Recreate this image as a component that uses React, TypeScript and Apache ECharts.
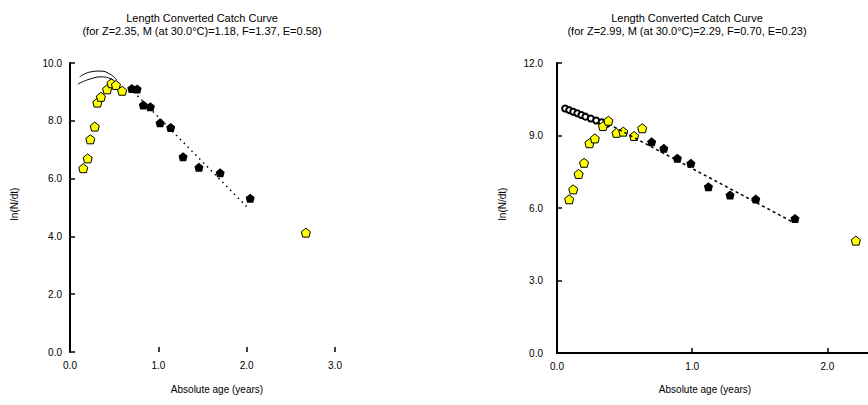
import React, { useEffect, useRef } from "react";
import * as echarts from "echarts";

// Left chart data (age in years, ln(N/dt))
const leftYellowX = [0.15, 0.2, 0.23, 0.28, 0.31, 0.35, 0.42, 0.47, 0.52, 0.59, 2.67];
const leftYellowY = [6.36, 6.7, 7.36, 7.8, 8.63, 8.83, 9.09, 9.3, 9.24, 9.04, 4.13];
const leftBlackX = [0.7, 0.76, 0.83, 0.91, 1.02, 1.14, 1.28, 1.46, 1.7, 2.04];
const leftBlackY = [9.12, 9.1, 8.55, 8.49, 7.93, 7.77, 6.76, 6.39, 6.2, 5.32];
const leftRegX = [0.72, 2.0];
const leftRegY = [9.0, 5.03];
const leftArcUpX = [0.11, 0.23, 0.34, 0.45, 0.53];
const leftArcUpY = [9.52, 9.69, 9.72, 9.62, 9.41];
const leftArcLowX = [0.09, 0.23, 0.37, 0.49];
const leftArcLowY = [9.27, 9.45, 9.52, 9.41];

// Right chart data
const rightYellowX = [0.09, 0.12, 0.16, 0.2, 0.24, 0.28, 0.34, 0.38, 0.44, 0.49, 0.57, 0.63, 2.21];
const rightYellowY = [6.36, 6.77, 7.41, 7.87, 8.68, 8.88, 9.39, 9.61, 9.11, 9.16, 8.98, 9.3, 4.65];
const rightBlackX = [0.7, 0.79, 0.89, 0.99, 1.12, 1.28, 1.47, 1.76];
const rightBlackY = [8.74, 8.47, 8.06, 7.85, 6.88, 6.54, 6.37, 5.57];
const rightRegX = [0.42, 1.74];
const rightRegY = [9.36, 5.43];
const rightHollowX = [0.06, 0.09, 0.12, 0.15, 0.18, 0.21, 0.25, 0.29, 0.33, 0.37];
const rightHollowY = [10.12, 10.05, 9.98, 9.92, 9.85, 9.78, 9.7, 9.62, 9.55, 9.48];

const leftTitle = ["Length Converted Catch Curve", "(for Z=2.35, M (at 30.0°C)=1.18, F=1.37, E=0.58)"];
const rightTitle = ["Length Converted Catch Curve", "(for Z=2.99, M (at 30.0°C)=2.29, F=0.70, E=0.23)"];
const xName = "Absolute age (years)";
const yName = "ln(N/dt)";

const zip = (xs: number[], ys: number[]) => xs.map((x, i) => [x, ys[i]]);
const marker = "path://M5,0 L10,4 L8.5,10 L1.5,10 L0,4 Z";
const FONT = "Liberation Sans, Arial, sans-serif";

export default function App() {
  const ref = useRef<HTMLDivElement>(null);
  useEffect(() => {
    document.body.style.margin = "0";
    const chart = echarts.init(ref.current!, undefined, { renderer: "svg" });
    const axisLabel = { color: "#000", fontSize: 10, fontFamily: FONT, formatter: (v: number) => v.toFixed(1) };
    const tick = { show: true, inside: true, length: 5, lineStyle: { color: "#000", width: 1.5 } };
    const line = { show: true, lineStyle: { color: "#000", width: 2 } };
    const yellow = { color: "#ffff00", borderColor: "#000", borderWidth: 1, opacity: 1 };
    const black = { color: "#000", opacity: 1 };
    chart.setOption({
      animation: false,
      backgroundColor: "#fff",
      title: [
        {
          text: leftTitle.join("\n"),
          left: 197,
          top: 6,
          textAlign: "center",
          textStyle: { fontSize: 11, fontWeight: "normal", color: "#000", fontFamily: FONT, lineHeight: 13 },
        },
        {
          text: rightTitle.join("\n"),
          left: 682,
          top: 6,
          textAlign: "center",
          textStyle: { fontSize: 11, fontWeight: "normal", color: "#000", fontFamily: FONT, lineHeight: 13 },
        },
      ],
      graphic: [
        { type: "text", x: 217, y: 384, style: { text: xName, fontSize: 10, fontFamily: FONT, fill: "#000", textAlign: "center" } },
        { type: "text", x: 705, y: 384, style: { text: xName, fontSize: 10, fontFamily: FONT, fill: "#000", textAlign: "center" } },
        { type: "text", x: 14, y: 204, rotation: Math.PI / 2, style: { text: yName, fontSize: 10, fontFamily: FONT, fill: "#000", textAlign: "center", textVerticalAlign: "middle" } },
        { type: "text", x: 502, y: 204, rotation: Math.PI / 2, style: { text: yName, fontSize: 10, fontFamily: FONT, fill: "#000", textAlign: "center", textVerticalAlign: "middle" } },
      ],
      grid: [
        { left: 70, top: 63, width: 265, height: 289 },
        { left: 557, top: 63, width: 311, height: 290 },
      ],
      xAxis: [
        { type: "value", gridIndex: 0, min: 0, max: 3, interval: 1, axisLine: { show: false }, axisTick: tick, axisLabel: { ...axisLabel, margin: 8 }, splitLine: { show: false } },
        { type: "value", gridIndex: 1, min: 0, max: 2.3, interval: 1, axisLine: line, axisTick: tick, axisLabel: { ...axisLabel, margin: 8, showMaxLabel: false }, splitLine: { show: false } },
      ],
      yAxis: [
        { type: "value", gridIndex: 0, min: 0, max: 10, interval: 2, axisLine: line, axisTick: tick, axisLabel: { ...axisLabel, margin: 8 }, splitLine: { show: false } },
        { type: "value", gridIndex: 1, min: 0, max: 12, interval: 3, axisLine: line, axisTick: tick, axisLabel: { ...axisLabel, margin: 14 }, splitLine: { show: false } },
      ],
      series: [
        { type: "line", xAxisIndex: 0, yAxisIndex: 0, data: zip(leftArcUpX, leftArcUpY), smooth: true, symbol: "none", lineStyle: { color: "#000", width: 1 } },
        { type: "line", xAxisIndex: 0, yAxisIndex: 0, data: zip(leftArcLowX, leftArcLowY), smooth: true, symbol: "none", lineStyle: { color: "#000", width: 1 } },
        { type: "line", xAxisIndex: 0, yAxisIndex: 0, data: zip(leftRegX, leftRegY), symbol: "none", lineStyle: { color: "#000", width: 1.5, type: [1.5, 4] } },
        { type: "scatter", xAxisIndex: 0, yAxisIndex: 0, data: zip(leftYellowX, leftYellowY), symbol: marker, symbolSize: 9, itemStyle: yellow },
        { type: "scatter", xAxisIndex: 0, yAxisIndex: 0, data: zip(leftBlackX, leftBlackY), symbol: marker, symbolSize: 9, itemStyle: black },
        { type: "line", xAxisIndex: 1, yAxisIndex: 1, data: zip(rightRegX, rightRegY), symbol: "none", lineStyle: { color: "#000", width: 1.5, type: [3, 3] } },
        { type: "scatter", xAxisIndex: 1, yAxisIndex: 1, data: zip(rightHollowX, rightHollowY), symbol: "emptyCircle", symbolSize: 6, itemStyle: { color: "#000", borderColor: "#000", borderWidth: 1, opacity: 1 } },
        { type: "scatter", xAxisIndex: 1, yAxisIndex: 1, data: zip(rightYellowX, rightYellowY), symbol: marker, symbolSize: 9, itemStyle: yellow },
        { type: "scatter", xAxisIndex: 1, yAxisIndex: 1, data: zip(rightBlackX, rightBlackY), symbol: marker, symbolSize: 9, itemStyle: black },
      ],
    });
    return () => chart.dispose();
  }, []);
  return <div ref={ref} style={{ position: "absolute", left: 0, top: 0, width: 868, height: 405 }} />;
}
